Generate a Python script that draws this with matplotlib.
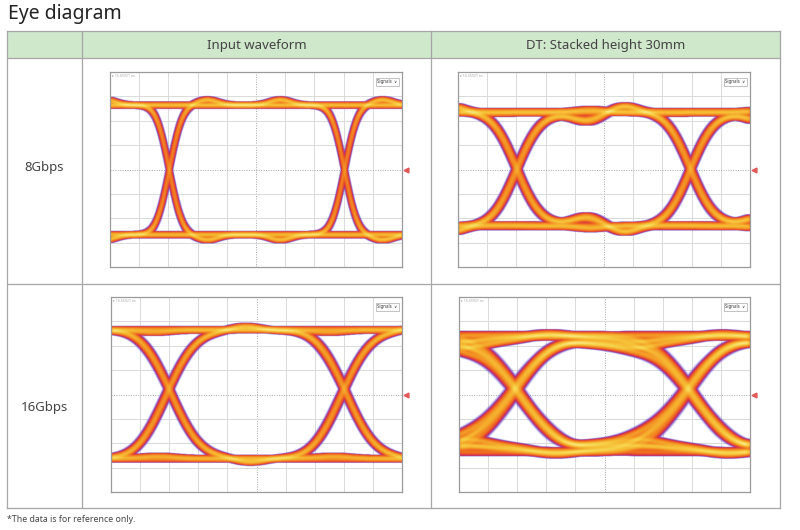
import numpy as np
import matplotlib
matplotlib.use("Agg")
import matplotlib.pyplot as plt
from matplotlib.colors import LinearSegmentedColormap

plt.rcParams['font.family'] = ['Noto Sans', 'DejaVu Sans']

# ---------------- data ----------------
title_text = "Eye diagram"
column_headers = ["Input waveform", "DT: Stacked height 30mm"]
row_labels = ["8Gbps", "16Gbps"]
footnote = "*The data is for reference only."
signal_label = "Signals"

# bit pattern replayed through each channel (deterministic, typed out)
bit_pattern = [1, 0, 1, 1, 0, 0, 1, 0, 0, 0, 1, 1, 1, 0, 1, 0,
               1, 1, 1, 1, 0, 0, 0, 0, 1, 0, 0, 1, 1, 0, 1, 1,
               0, 1, 0, 0, 1, 1, 1, 0, 0, 1, 0, 1, 0, 0, 0, 1,
               1, 0, 0, 1, 1, 1, 1, 1, 0, 1, 0, 0, 1, 0, 1, 1]

# panel order: 8G input, 8G DT, 16G input, 16G DT  (units: scope divisions)
high_level = [6.64, 6.36, 6.66, 6.45]
low_level = [1.33, 1.68, 1.36, 1.60]
crossing_x = [2.03, 2.02, 2.00, 2.00]
unit_interval = [6.00, 5.95, 6.00, 5.94]
edge_tau = [0.50, 0.90, 1.10, 1.45]
fall_delay = [0.00, 0.00, 0.16, 0.22]
slow_tail_frac = [0.00, 0.04, 0.03, 0.15]
slow_tail_time = [2.0, 3.0, 3.0, 6.0]
refl_delay = [[1.3, 3.8], [2.4, 3.7, 8.5], [2.7, 5.6], [1.7, 4.4, 7.3, 10.6]]
refl_amp = [[0.04, 0.04], [-0.05, 0.06, 0.02], [0.035, -0.015],
            [0.05, -0.045, 0.04, -0.035]]
refl_width = [0.35, 0.45, 0.5, 0.7]
jitter_offsets = [[-0.03, 0.0, 0.03], [-0.05, 0.0, 0.05],
                  [-0.04, 0.0, 0.04], [-0.08, -0.04, 0.0, 0.04, 0.08]]
noise_sigma = [0.05, 0.06, 0.055, 0.06]
jitter_sigma = [0.03, 0.04, 0.04, 0.05]

# ---------------- helpers ----------------
def erf(x):
    s = np.sign(x)
    a = np.abs(x)
    t = 1.0 / (1.0 + 0.3275911 * a)
    y = 1.0 - (((((1.061405429 * t - 1.453152027) * t) + 1.421413741) * t
                - 0.284496736) * t + 0.254829592) * t * np.exp(-a * a)
    return s * y


def step_response(tt, i):
    a = slow_tail_frac[i]
    h = (1 - a) * 0.5 * (1 + erf(tt / edge_tau[i]))
    h = h + a * (1 - np.exp(-np.maximum(tt, 0) / slow_tail_time[i]))
    for d, amp in zip(refl_delay[i], refl_amp[i]):
        h = h + amp * np.exp(-0.5 * ((tt - d) / refl_width[i]) ** 2)
    return h


def gauss_blur(img, sy, sx):
    def kern(s):
        r = max(1, int(3 * s))
        k = np.exp(-0.5 * (np.arange(-r, r + 1) / max(s, 1e-3)) ** 2)
        return k / k.sum()
    ky, kx = kern(sy), kern(sx)
    out = np.apply_along_axis(lambda m: np.convolve(m, ky, mode='same'), 0, img)
    out = np.apply_along_axis(lambda m: np.convolve(m, kx, mode='same'), 1, out)
    return out


NX, NY = 600, 480


def eye_density(i):
    ui = unit_interval[i]
    dt = 10.0 / 6000
    b = np.array(bit_pattern, float)
    nb = len(b)
    t = np.arange(0, nb * ui + 12, dt)
    y = np.full_like(t, b[0])
    for k in range(1, nb):
        d = b[k] - b[k - 1]
        if d > 0:
            y += d * step_response(t - k * ui, i)
        elif d < 0:
            y += d * step_response(t - k * ui - fall_delay[i], i)
    S = high_level[i] - low_level[i]
    y = low_level[i] + S * y
    tg = np.linspace(-3, 3, 6001)
    hg = step_response(tg, i)
    tc = tg[np.argmin(np.abs(hg - 0.5))] + fall_delay[i] / 2
    n = 6000
    xs, ys = [], []
    for k in range(3, nb - 3):
        ws = k * ui + tc - crossing_x[i]
        i0 = int(round(ws / dt))
        seg = y[i0:i0 + n]
        xx = np.arange(len(seg)) * dt
        for jo in jitter_offsets[i]:
            xs.append(xx + jo)
            ys.append(seg)
    xs = np.concatenate(xs)
    ys = np.concatenate(ys)
    H, _, _ = np.histogram2d(xs, ys, bins=[NX, NY], range=[[0, 10], [0, 8]])
    H = H.T
    H = gauss_blur(H, noise_sigma[i] * NY / 8, jitter_sigma[i] * NX / 10)
    return H


cmap = LinearSegmentedColormap.from_list('eye', [
    (0.00, '#3c3cd0'),
    (0.10, '#8a38b0'),
    (0.22, '#d83048'),
    (0.40, '#ee6420'),
    (0.60, '#f39424'),
    (0.80, '#f6bc34'),
    (0.92, '#f7d650'),
    (1.00, '#f9e888')])

# ---------------- figure ----------------
W, Hpx = 800, 530
fig = plt.figure(figsize=(W / 100, Hpx / 100), dpi=100)
bg = fig.add_axes([0, 0, 1, 1])
bg.set_xlim(0, W)
bg.set_ylim(Hpx, 0)
bg.axis('off')

line_c = '#a6a6a6'
tx0, tx1 = 7, 780
ty0, ty_h, ty_r, ty1 = 31, 58, 284, 508
cx1, cx2 = 82, 431
bg.add_patch(plt.Rectangle((tx0, ty0), tx1 - tx0, ty_h - ty0, facecolor='#cfe7cb',
                           edgecolor='none', zorder=0))
for yy in (ty0, ty_h, ty_r, ty1):
    bg.plot([tx0, tx1], [yy, yy], color=line_c, lw=0.9, zorder=1)
for xx in (tx0, cx1, cx2, tx1):
    bg.plot([xx, xx], [ty0, ty1], color=line_c, lw=0.9, zorder=1)

bg.text(8, 14, title_text, fontsize=14, color='#222222', va='center', ha='left')
bg.text((cx1 + cx2) / 2, 45, column_headers[0], fontsize=9.5, color='#444444',
        ha='center', va='center')
bg.text((cx2 + tx1) / 2, 45, column_headers[1], fontsize=9.5, color='#444444',
        ha='center', va='center')
bg.text((tx0 + cx1) / 2, 167, row_labels[0], fontsize=9.5, color='#444444',
        ha='center', va='center')
bg.text((tx0 + cx1) / 2, 407, row_labels[1], fontsize=9.5, color='#444444',
        ha='center', va='center')
bg.text(7, 520, footnote, fontsize=6.3, color='#444444', ha='left', va='center')

panel_boxes = [(110, 72, 402, 267), (458, 72, 750, 267),
               (111, 297, 402, 492), (459, 297, 750, 492)]

for i, (x0, y0, x1, y1) in enumerate(panel_boxes):
    ax = fig.add_axes([x0 / W, 1 - y1 / Hpx, (x1 - x0) / W, (y1 - y0) / Hpx])
    ax.set_xlim(0, 10)
    ax.set_ylim(0, 8)
    ax.set_xticks([])
    ax.set_yticks([])
    for sp in ax.spines.values():
        sp.set_color('#9a9a9a')
        sp.set_linewidth(0.9)
    for gx in range(1, 10):
        if gx == 5:
            ax.axvline(gx, color='#a8a8a8', lw=0.7, ls=(0, (1, 1.5)), zorder=0)
        else:
            ax.axvline(gx, color='#dadada', lw=0.7, zorder=0)
    for gy in range(1, 8):
        if gy == 4:
            ax.axhline(gy, color='#a8a8a8', lw=0.7, ls=(0, (1, 1.5)), zorder=0)
        else:
            ax.axhline(gy, color='#dadada', lw=0.7, zorder=0)

    D = eye_density(i)
    v = (D / D.max()) ** 0.3
    rgba = cmap(np.clip(v, 0, 1))
    rgba[..., 3] = np.clip(v / 0.12, 0, 1)
    ax.imshow(rgba, origin='lower', extent=[0, 10, 0, 8], aspect='auto',
              interpolation='bilinear', zorder=2)

    ax.plot([10.13], [4.0], marker='<', color='#e05a5a', ms=3.5, clip_on=False,
            zorder=5)
    ax.text(9.5, 7.6, signal_label + "  \u2228", fontsize=3.2, color='#333333',
            ha='center', va='center', zorder=6,
            bbox=dict(boxstyle='square,pad=0.35', facecolor='white',
                      edgecolor='#aaaaaa', lw=0.5))
    ax.text(0.08, 7.85, "\u25b8 16.65921 ns", fontsize=2.6, color='#aaaaaa',
            ha='left', va='center', zorder=6)

fig.savefig('out.png', dpi=100)
